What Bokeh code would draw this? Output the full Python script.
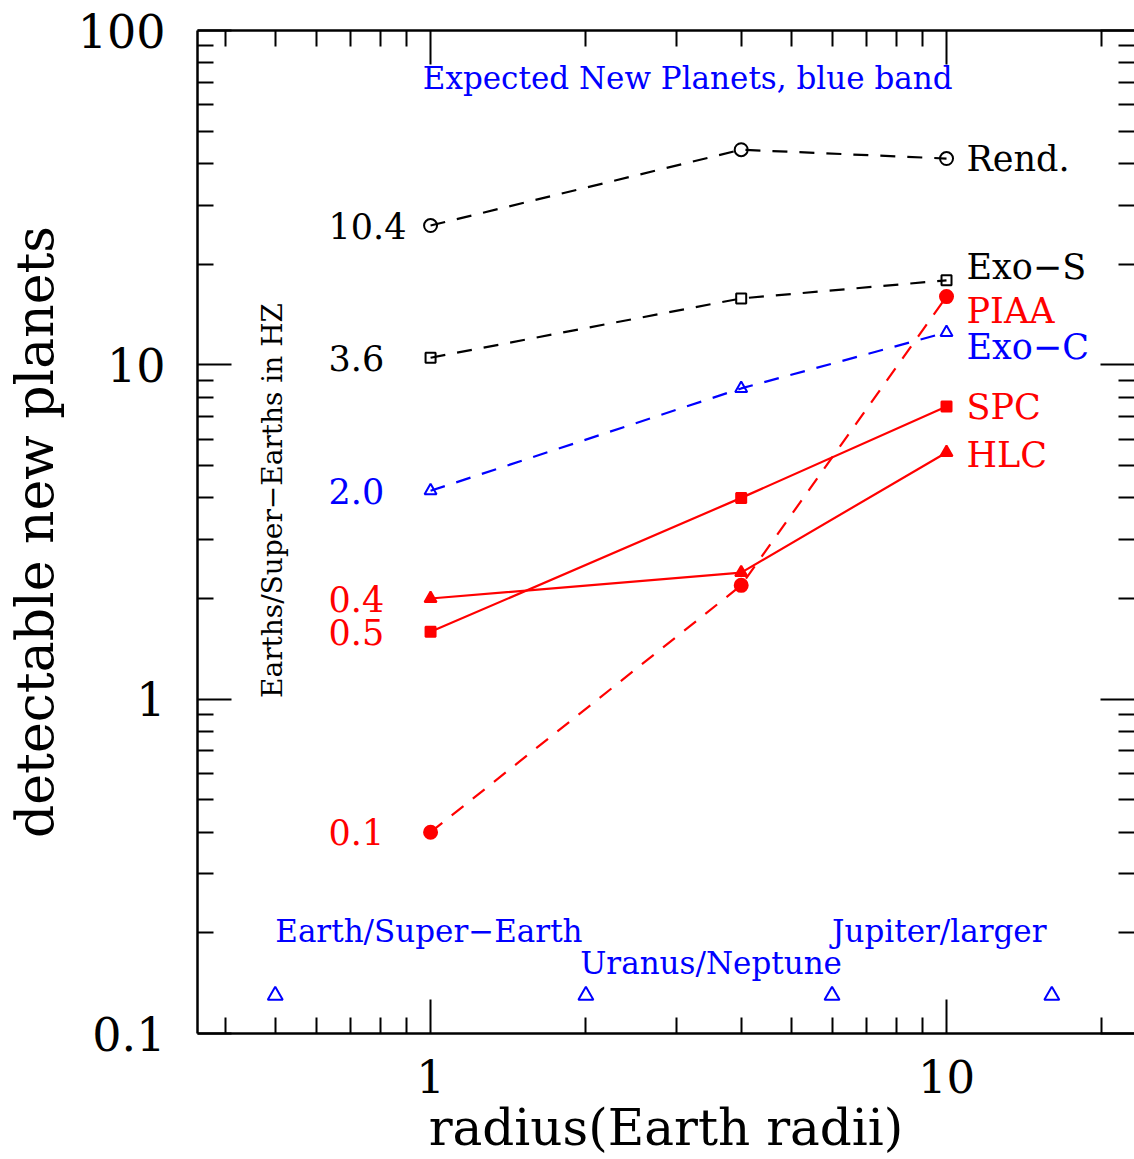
from bokeh.plotting import figure
from bokeh.models import LogAxis, FixedTicker, CustomJSTickFormatter, ColumnDataSource
from bokeh.core.properties import value
from bokeh.embed import file_html
from bokeh.resources import INLINE

# Planet radius bins (Earth radii) at which the yields are evaluated
radius = [1, 4, 10]

# Detectable new planets per mission concept
rend = [26.1, 44.0, 41.4]
exo_s = [10.5, 15.8, 17.9]
exo_c = [4.2, 8.5, 12.5]
piaa = [0.40, 2.19, 16.0]
spc = [1.59, 4.0, 7.5]
hlc = [2.0, 2.39, 5.47]

# Earths/Super-Earths in the habitable zone, one per mission
hz_rend = "10.4"
hz_exo_s = "3.6"
hz_exo_c = "2.0"
hz_hlc = "0.4"
hz_spc = "0.5"
hz_piaa = "0.1"

# Radius band boundaries and their names
band_edges = [0.5, 2, 6, 16]
band_marker_y = [0.13, 0.13, 0.13, 0.13]
band_names = ["Earth/Super\u2212Earth", "Uranus/Neptune", "Jupiter/larger"]
band_name_x = [0.5, 1.95, 6]
band_name_y = [0.203, 0.162, 0.203]

# Axis ticks
x_ticks = [1, 10]
x_minor = [0.4, 0.5, 0.6, 0.7, 0.8, 0.9, 2, 3, 4, 5, 6, 7, 8, 9, 20]
y_ticks = [0.1, 1, 10, 100]
y_minor = [m * d for d in (0.1, 1, 10) for m in range(2, 10)]

FONT = "DejaVu Serif"
RED = "#ff0000"
BLUE = "#0000ff"
BLACK = "#000000"

p = figure(width=1134, height=1159, x_axis_type="log", y_axis_type="log",
           x_range=(0.3534, 23.14), y_range=(0.1, 100),
           output_backend="svg", toolbar_location=None,
           min_border_left=197, min_border_right=0,
           min_border_top=30, min_border_bottom=126)
p.outline_line_color = None
p.background_fill_color = "white"
p.border_fill_color = "white"
p.xgrid.visible = False
p.ygrid.visible = False

xt = FixedTicker(ticks=x_ticks, minor_ticks=x_minor)
yt = FixedTicker(ticks=y_ticks, minor_ticks=y_minor)
show_fmt = CustomJSTickFormatter(code="return tick.toString();")


def style_axis(ax, ticker, labels=True, line=True):
    ax.ticker = ticker
    ax.major_tick_in = 34
    ax.major_tick_out = 0
    ax.minor_tick_in = 16
    ax.minor_tick_out = 0
    ax.major_tick_line_width = 2
    ax.minor_tick_line_width = 2
    ax.major_tick_line_color = BLACK
    ax.minor_tick_line_color = BLACK
    ax.axis_line_width = 2.5
    ax.axis_line_color = BLACK if line else None
    if labels:
        ax.formatter = show_fmt
        ax.major_label_text_font = FONT
        ax.major_label_text_font_size = "46px"
        ax.major_label_text_color = BLACK
        ax.axis_label_text_font = FONT
        ax.axis_label_text_font_style = "normal"
        ax.axis_label_text_font_size = "52px"
        ax.axis_label_text_color = BLACK
    else:
        ax.formatter = CustomJSTickFormatter(code="return '';")
        ax.major_label_text_font_size = "0px"
        ax.major_label_standoff = 0


xa = p.xaxis[0]
ya = p.yaxis[0]
style_axis(xa, xt)
style_axis(ya, yt)
xa.axis_label = "radius(Earth radii)"
ya.axis_label = "detectable new planets"
xa.major_label_text_font_size = "45px"
xa.axis_label_text_font_size = "50px"
xa.major_label_standoff = 26
xa.axis_label_standoff = 3
ya.major_label_standoff = 32
ya.axis_label_standoff = 10

top = LogAxis()
style_axis(top, xt, labels=False)
p.add_layout(top, "above")
right = LogAxis()
style_axis(right, yt, labels=False, line=False)
p.add_layout(right, "right")

# Mission curves: (values, colour, dash, marker, filled, size, label, label shift, HZ count)
series = [
    (rend, BLACK, "15 12", "circle", False, 13, "Rend.", 0, hz_rend),
    (exo_s, BLACK, "15 12", "square", False, 10, "Exo\u2212S", -13, hz_exo_s),
    (exo_c, BLUE, "15 12", "triangle", False, 12, "Exo\u2212C", 15, hz_exo_c),
    (piaa, RED, "15 12", "circle", True, 13, "PIAA", 14, hz_piaa),
    (spc, RED, "solid", "square", True, 10, "SPC", 0, hz_spc),
    (hlc, RED, "solid", "triangle", True, 12, "HLC", 3, hz_hlc),
]

for vals, col, dash, mk, filled, sz, name, dy, hz in series:
    p.line(radius, vals, line_color=col, line_width=2.2, line_dash=dash)
    p.scatter(radius, vals, marker=mk, size=sz, line_color=col, line_width=2,
              fill_color=col if filled else None)
    p.text(x=[radius[-1]], y=[vals[-1]], text=[name], x_offset=20, y_offset=dy,
           text_font=value(FONT), text_font_size="35px", text_color=col,
           text_align="left", text_baseline="middle")
    p.text(x=[radius[0]], y=[vals[0]], text=[hz], x_offset=-102,
           text_font=value(FONT), text_font_size="35px", text_color=col,
           text_align="left", text_baseline="middle")

# Radius bands along the bottom
p.scatter(band_edges, band_marker_y, marker="triangle", size=15,
          line_color=BLUE, line_width=2, fill_color=None)
band_src = ColumnDataSource(dict(x=band_name_x, y=band_name_y, t=band_names))
p.text(x="x", y="y", text="t", source=band_src, text_font=value(FONT),
       text_font_size="31px", text_color=BLUE, text_align="left",
       text_baseline="middle")

p.text(x=[3.15], y=[72.0], text=["Expected New Planets, blue band"],
       text_font=value(FONT), text_font_size="31px", text_color=BLUE,
       text_align="center", text_baseline="middle")

p.text(x=[0.494], y=[3.93], text=["Earths/Super\u2212Earths in HZ"], angle=1.5708,
       text_font=value(FONT), text_font_size="28px", text_color=BLACK,
       text_align="center", text_baseline="middle")

open("out.html", "w").write(file_html(p, INLINE))
